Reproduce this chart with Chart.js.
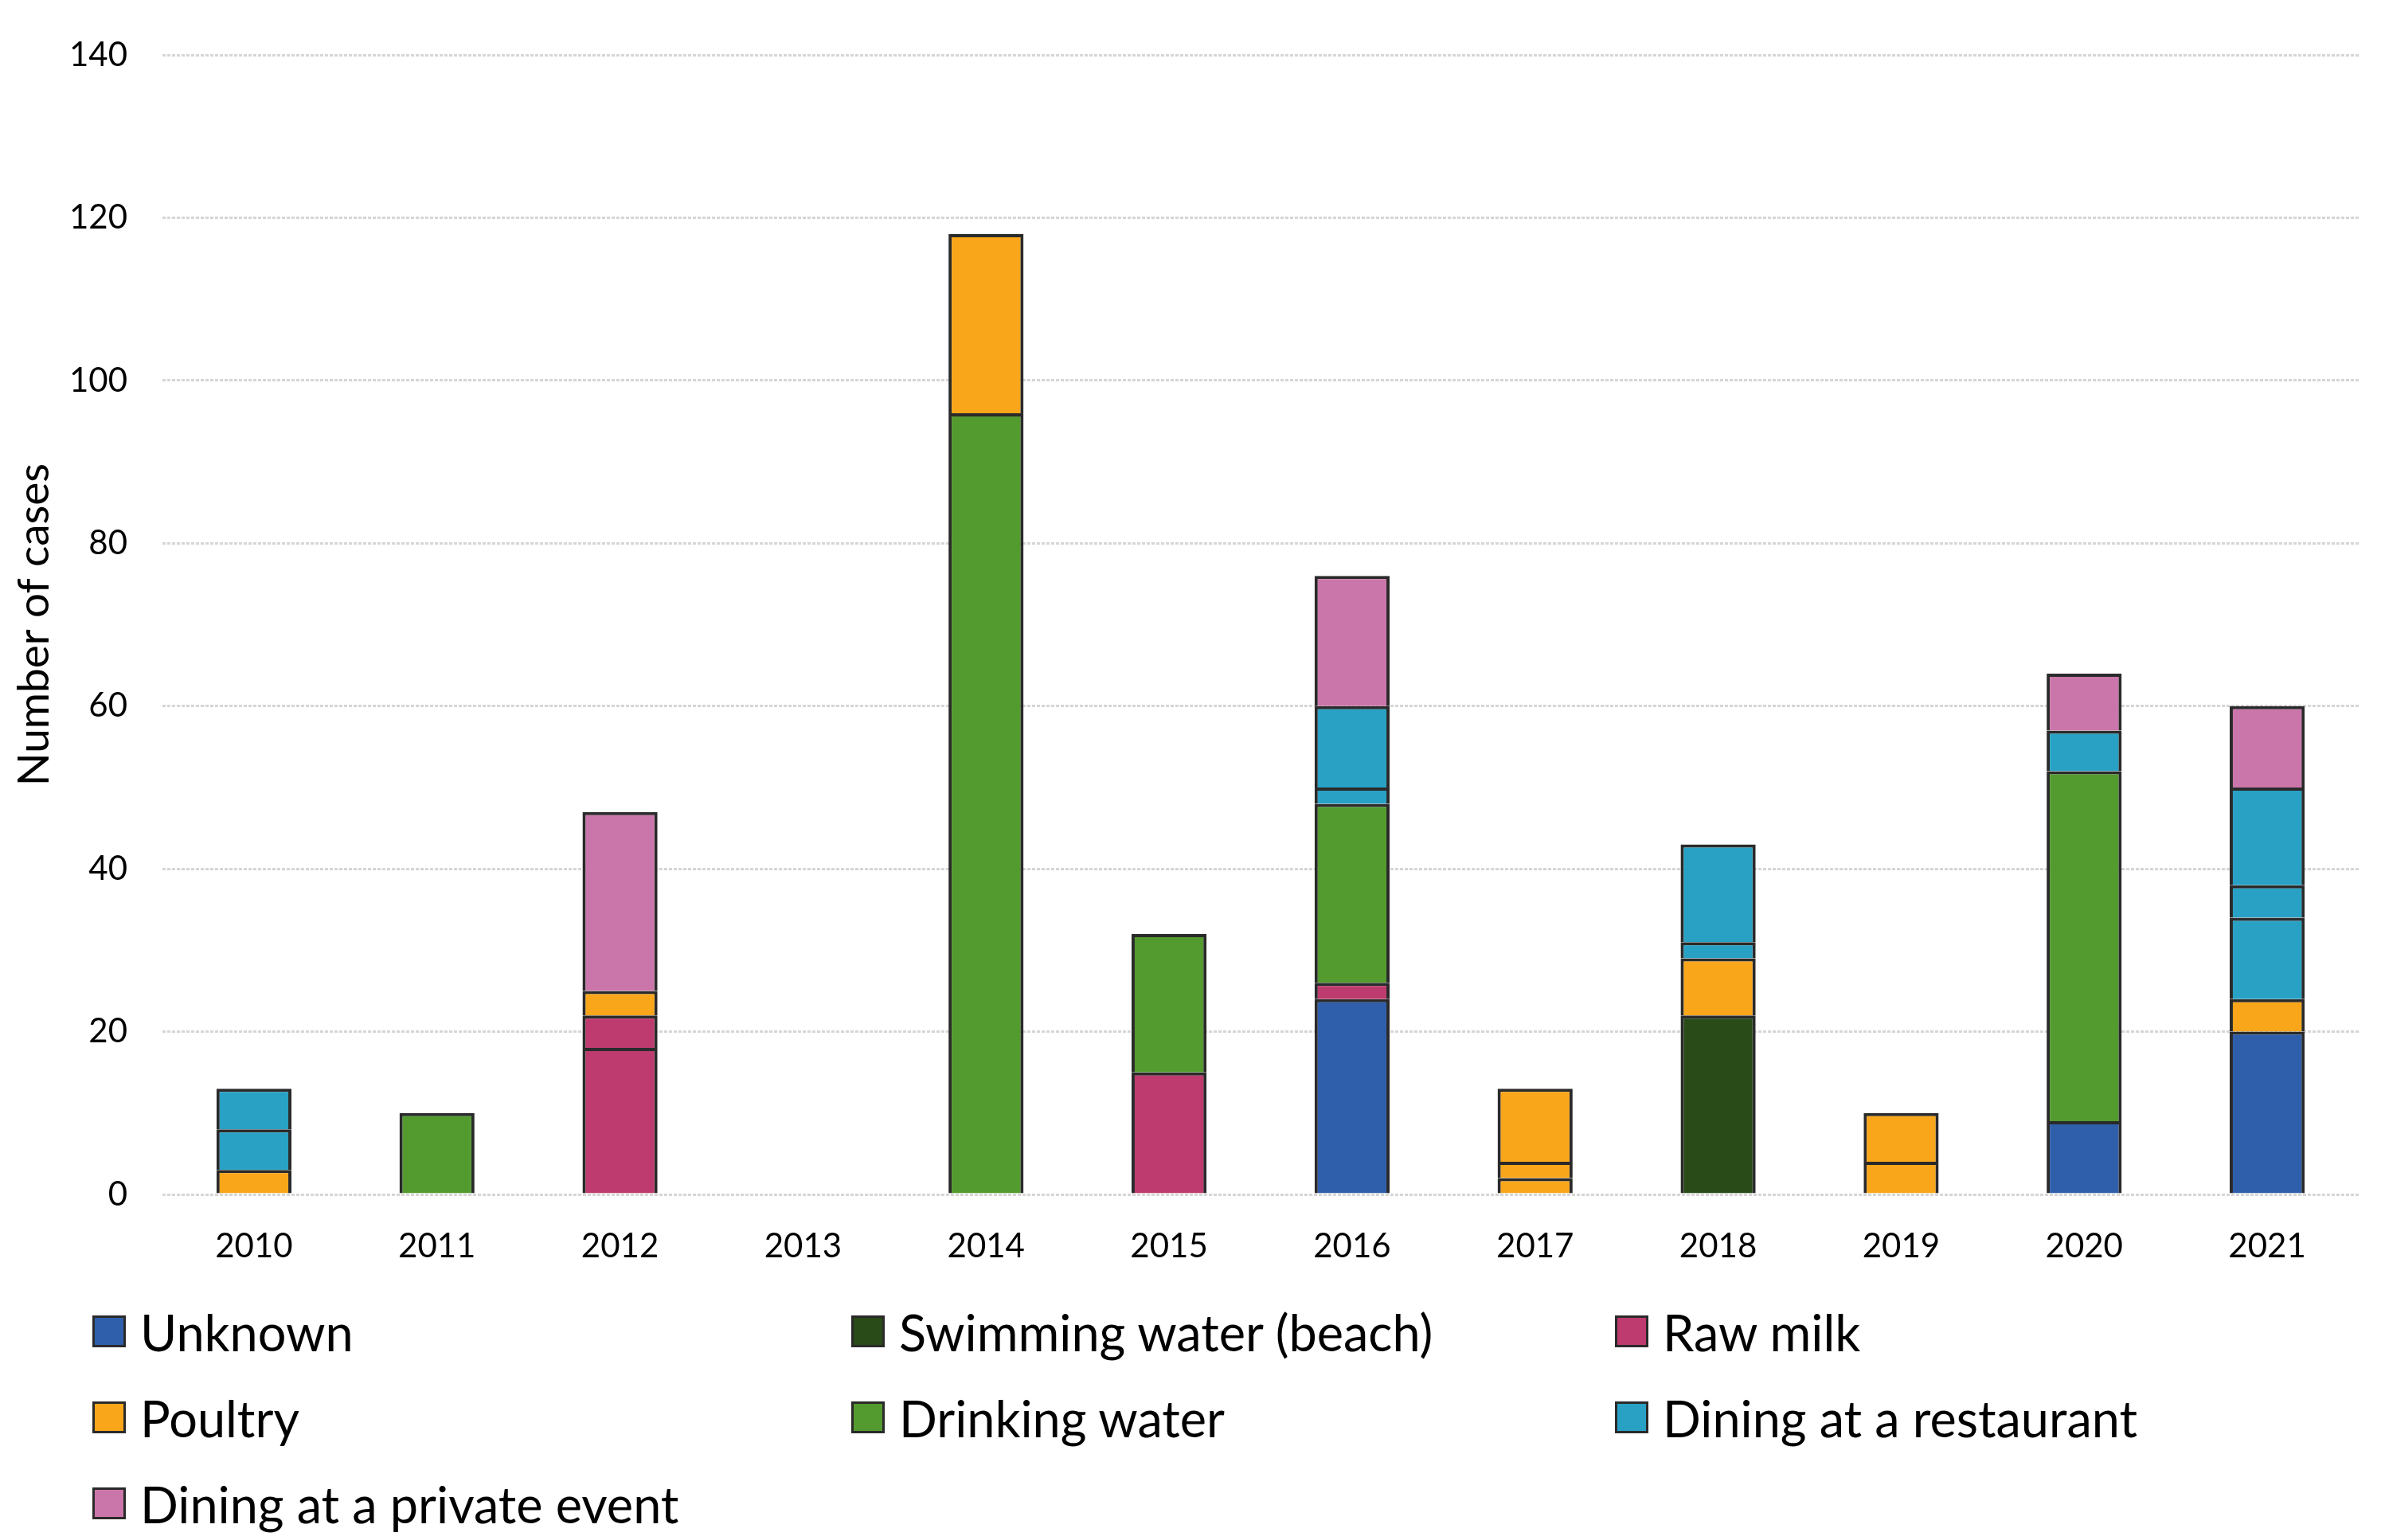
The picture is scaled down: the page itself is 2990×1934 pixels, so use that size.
<!DOCTYPE html>
<html lang="en">
<head>
    <meta charset="UTF-8">
    <title>Number of cases by source</title>
    <script src="https://cdn.jsdelivr.net/npm/chart.js"></script>
    <style>
        body { margin: 0; background: #fff; }
        #wrap { position: relative; width: 2990px; height: 1934px; }
        #legend { position: absolute; left: 116px; top: 1652px; font-family: Lato, sans-serif; font-size: 63px; color: #000; }
        .item { position: absolute; display: flex; align-items: center; white-space: nowrap; height: 40px; }
        .box { width: 36px; height: 34px; border: 3px solid #2a2a2a; margin-right: 18px; }
    </style>
</head>
<body>
<div id="wrap">
    <canvas id="myChart"></canvas>
    <div id="legend"></div>
</div>
<script>
    const years = ['2010', '2011', '2012', '2013', '2014', '2015', '2016', '2017', '2018', '2019', '2020', '2021'];
    const categories = ['Unknown', 'Swimming water (beach)', 'Raw milk', 'Poultry', 'Drinking water', 'Dining at a restaurant', 'Dining at a private event'];
    const yTicks = [0, 20, 40, 60, 80, 100, 120, 140];

    // one array per stacked segment (an outbreak), bottom to top
    const unknown      = [0, 0, 0, 0, 0, 0, 24, 0, 0, 0, 9, 20];
    const swimming     = [0, 0, 0, 0, 0, 0, 0, 0, 22, 0, 0, 0];
    const rawMilk1     = [0, 0, 18, 0, 0, 15, 2, 0, 0, 0, 0, 0];
    const rawMilk2     = [0, 0, 4, 0, 0, 0, 0, 0, 0, 0, 0, 0];
    const poultry1     = [3, 0, 3, 0, 0, 0, 0, 2, 7, 4, 0, 4];
    const poultry2     = [0, 0, 0, 0, 0, 0, 0, 2, 0, 6, 0, 0];
    const poultry3     = [0, 0, 0, 0, 0, 0, 0, 9, 0, 0, 0, 0];
    const drinking     = [0, 10, 0, 0, 96, 17, 22, 0, 0, 0, 43, 0];
    const poultry4     = [0, 0, 0, 0, 22, 0, 0, 0, 0, 0, 0, 0];
    const restaurant1  = [5, 0, 0, 0, 0, 0, 2, 0, 2, 0, 5, 10];
    const restaurant2  = [5, 0, 0, 0, 0, 0, 10, 0, 12, 0, 0, 4];
    const restaurant3  = [0, 0, 0, 0, 0, 0, 0, 0, 0, 0, 0, 12];
    const privateEvent = [0, 0, 22, 0, 0, 0, 16, 0, 0, 0, 7, 10];

    const colors = ['#2F5FAB', '#284B18', '#BD3B6E', '#F9A61A', '#539A2F', '#28A1C4', '#CB76AA'];

    const segments = [
        [unknown, 0], [swimming, 1], [rawMilk1, 2], [rawMilk2, 2],
        [poultry1, 3], [poultry2, 3], [poultry3, 3], [drinking, 4], [poultry4, 3],
        [restaurant1, 5], [restaurant2, 5], [restaurant3, 5], [privateEvent, 6]
    ];

    const datasets = segments.map(([values, cat]) => ({
        label: categories[cat],
        data: values,
        backgroundColor: colors[cat],
        borderColor: '#2a2a2a',
        borderWidth: 4,
        categoryPercentage: 1,
        barPercentage: 0.41
    }));

    const font = 'Lato, sans-serif';
    const ctx = document.getElementById('myChart').getContext('2d');
    const myChart = new Chart(ctx, {
        type: 'bar',
        data: { labels: years, datasets: datasets },
        options: {
            responsive: true,
            maintainAspectRatio: false,
            animation: false,
            layout: { autoPadding: false, padding: { left: 0, right: 28, top: 60, bottom: 314 } },
            plugins: { legend: { display: false }, tooltip: { enabled: false } },
            scales: {
                x: {
                    stacked: true,
                    grid: { display: false, drawTicks: false },
                    border: { display: false },
                    ticks: { color: '#000', font: { family: font, size: 42 }, padding: 40 },
                    afterFit: (axis) => { axis.height = 120; }
                },
                y: {
                    stacked: true,
                    min: 0,
                    max: 140,
                    afterBuildTicks: (axis) => { axis.ticks = yTicks.map(v => ({ value: v })); },
                    grid: { color: '#d6d6d6', lineWidth: 3, drawTicks: false },
                    border: { display: false, dash: [4, 2] },
                    ticks: { color: '#000', font: { family: font, size: 42 }, padding: 44 },
                    title: {
                        display: true,
                        text: 'Number of cases',
                        color: '#000',
                        font: { family: font, size: 55 },
                        padding: { top: 10, bottom: 0 }
                    },
                    afterFit: (axis) => { axis.width = 204; }
                }
            }
        }
    });

    // legend laid out in three columns like the original
    const legend = document.getElementById('legend');
    const colX = [0, 953, 1912];
    categories.forEach((name, i) => {
        const item = document.createElement('div');
        item.className = 'item';
        item.style.left = colX[i % 3] + 'px';
        item.style.top = (Math.floor(i / 3) * 108) + 'px';
        const box = document.createElement('span');
        box.className = 'box';
        box.style.background = colors[i];
        const text = document.createElement('span');
        text.textContent = name;
        item.appendChild(box);
        item.appendChild(text);
        legend.appendChild(item);
    });
</script>
</body>
</html>
